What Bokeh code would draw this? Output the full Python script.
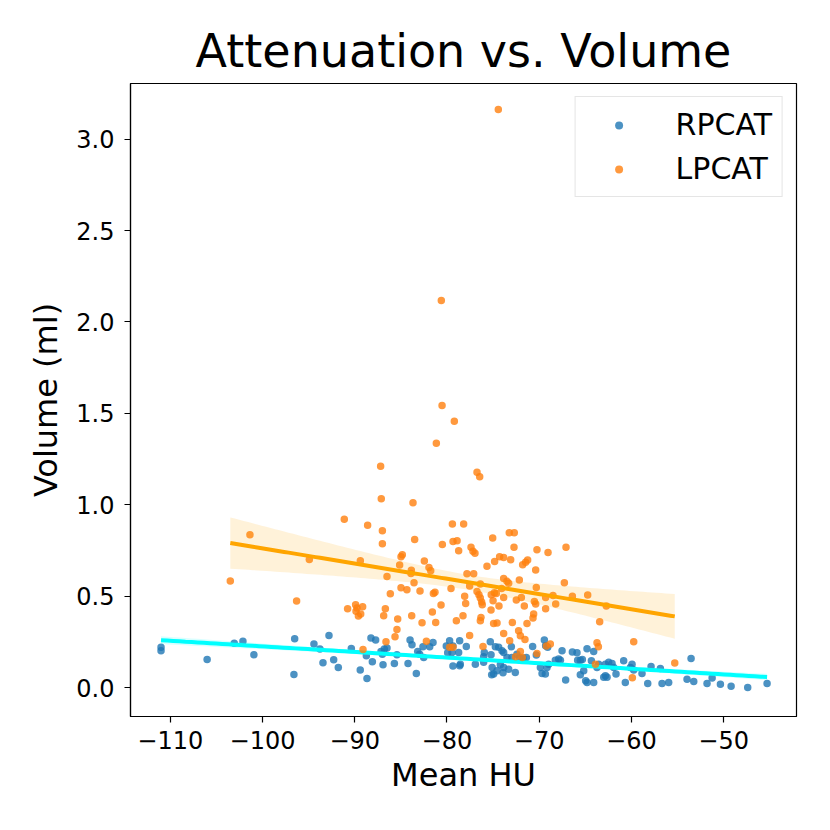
import numpy as np
from bokeh.plotting import figure
from bokeh.models import Range1d, Legend, LegendItem, FixedTicker
from bokeh.embed import file_html
from bokeh.resources import INLINE

# ---------------- data ----------------
rpcat_hu = [
    -111.0, -111.0, -106.0, -103.06, -102.12, -100.93, -96.51, -96.59, -94.42, -93.77,
    -92.79, -93.44, -92.28, -91.78, -90.37, -89.4, -88.67, -88.74, -88.09, -88.24,
    -87.73, -86.93, -87.0, -86.79, -86.5, -87.15, -85.7, -85.42, -84.22, -84.0,
    -83.79, -83.32, -83.17, -82.96, -82.6, -82.52, -81.87, -81.51,
    -80.07, -79.71, -79.35, -78.62, -77.9, -79.92, -79.45, -78.73,
    -79.35, -78.55, -78.62, -76.92, -76.02, -75.95, -76.02, -75.3, -75.22,
    -74.75, -74.39, -74.03, -73.85, -75.1, -74.94, -75.15, -74.57,
    -74.21, -73.85, -73.92, -73.31, -73.49, -73.02, -72.95, -72.59,
    -72.41, -72.12, -71.76, -71.39, -70.71, -70.31,
    -69.87, -69.69, -69.33, -69.15, -68.97, -69.44, -69.3, -69.08,
    -68.25, -67.89, -67.7, -67.52, -67.13,
    -66.4, -65.9, -65.83, -65.54, -65.32, -65.54, -65.17, -64.96, -64.81, -64.09,
    -64.81, -64.09, -64.34, -63.73, -63.55, -63.0, -62.82, -62.64,
    -62.82, -62.46, -62.1, -61.92, -61.67,
    -60.84, -60.66, -60.11, -59.93, -59.75,
    -58.85, -58.23, -57.87, -56.86, -56.68, -55.96,
    -53.53, -53.97, -53.24, -51.8, -51.25, -50.35, -49.19, -47.39, -45.29,
]
rpcat_vol = [
    0.221, 0.202, 0.155, 0.244, 0.255, 0.181, 0.268, 0.073, 0.239, 0.212,
    0.286, 0.137, 0.153, 0.111, 0.215, 0.097, 0.051, 0.175, 0.142, 0.272,
    0.261, 0.126, 0.184, 0.212, 0.217, 0.199, 0.133, 0.181, 0.133, 0.261,
    0.235, 0.078, 0.199, 0.184, 0.224, 0.166, 0.224, 0.248,
    0.228, 0.257, 0.228, 0.257, 0.226, 0.191, 0.193, 0.193,
    0.119, 0.129, 0.120, 0.129, 0.170, 0.193, 0.139, 0.252, 0.181,
    0.224, 0.221, 0.202, 0.193, 0.111, 0.075, 0.071, 0.093,
    0.126, 0.111, 0.082, 0.102, 0.166, 0.224, 0.166, 0.084,
    0.184, 0.166, 0.162, 0.166, 0.226, 0.179,
    0.111, 0.078, 0.075, 0.111, 0.129, 0.261, 0.230, 0.221,
    0.151, 0.157, 0.151, 0.202, 0.042,
    0.195, 0.191, 0.151, 0.151, 0.155, 0.071, 0.093, 0.038, 0.029, 0.029,
    0.213, 0.199, 0.148, 0.111, 0.129, 0.057, 0.066, 0.057,
    0.129, 0.139, 0.133, 0.111, 0.075,
    0.148, 0.029, 0.111, 0.129, 0.097,
    0.078, 0.024, 0.117, 0.106, 0.024, 0.029,
    0.160, 0.047, 0.035, 0.024, 0.053, 0.020, 0.009, 0.002, 0.024,
]

lpcat_hu = [
    -74.43, -80.61, -80.53, -79.2, -81.15, -87.19, -76.74, -76.45, -87.12, -83.68,
    -91.13, -88.6, -101.36, -87.0, -87.0, -83.5, -79.41, -78.19, -80.5, -79.34, -78.9, -78.73,
    -77.39, -77.18, -76.96, -75.04, -73.24, -72.7, -72.73, -70.24, -69.04, -67.09,
    -74.29, -73.85, -73.09, -74.83, -75.66, -71.79, -71.47, -71.25, -70.38,
    -77.83, -77.1, -73.85, -73.49, -73.31, -72.15, -76.38, -77.54, -74.07, -70.31, -67.27,
    -76.74, -76.53, -76.38, -76.24, -76.17, -75.2, -74.86, -74.65, -75.0,
    -78.08, -77.97, -73.85, -74.36, -75.22, -72.48, -71.93, -71.61, -70.52, -70.38,
    -69.3, -69.3, -68.5, -68.21, -66.4, -64.74, -62.72, -63.44, -59.75, -55.3,
    -78.98, -78.26, -76.31, -76.38, -74.94, -74.57, -72.91, -70.6, -70.67, -71.32,
    -73.85, -72.23, -72.04, -71.54, -73.2, -77.54,
    -76.09, -72.04, -72.55, -71.83, -70.24, -69.22, -68.79, -63.73, -63.58, -63.9, -59.9,
    -94.92, -89.39, -84.98, -84.84, -85.13, -82.45, -81.95, -81.76, -83.86, -83.9,
    -86.5, -83.57, -84.98, -84.34, -82.92, -86.14, -81.47, -81.3, -79.56, -103.49,
    -96.3, -90.77, -89.9, -89.75, -89.14, -89.86, -89.6, -89.35, -86.68, -86.86,
    -83.82, -85.34, -82.7, -81.58, -80.64, -81.22,
    -85.42, -85.63, -86.61, -82.23, -89.1, -79.7, -79.34,
]
lpcat_vol = [
    3.162, 2.117, 1.543, 1.457, 1.337, 1.211, 1.178, 1.154, 1.034, 1.012,
    0.921, 0.888, 0.837, 0.859, 0.788, 0.811, 0.895, 0.895, 0.784, 0.800, 0.804, 0.749,
    0.768, 0.746, 0.735, 0.819, 0.848, 0.848, 0.768, 0.755, 0.740, 0.768,
    0.717, 0.713, 0.700, 0.691, 0.664, 0.673, 0.686, 0.698, 0.644,
    0.624, 0.624, 0.598, 0.582, 0.571, 0.589, 0.567, 0.556, 0.543, 0.549, 0.574,
    0.527, 0.509, 0.491, 0.469, 0.454, 0.509, 0.520, 0.516, 0.476,
    0.501, 0.461, 0.494, 0.447, 0.425, 0.480, 0.494, 0.447, 0.472, 0.458,
    0.432, 0.494, 0.505, 0.458, 0.501, 0.507, 0.447, 0.361, 0.252, 0.135,
    0.367, 0.394, 0.385, 0.367, 0.352, 0.354, 0.357, 0.403, 0.381, 0.352,
    0.297, 0.312, 0.285, 0.264, 0.257, 0.286,
    0.226, 0.199, 0.170, 0.166, 0.188, 0.228, 0.239, 0.246, 0.224, 0.129, 0.055,
    0.702, 0.695, 0.717, 0.728, 0.671, 0.693, 0.658, 0.640, 0.642, 0.625,
    0.609, 0.574, 0.547, 0.536, 0.529, 0.514, 0.516, 0.522, 0.543, 0.584,
    0.474, 0.432, 0.454, 0.436, 0.443, 0.418, 0.392, 0.403, 0.432, 0.394,
    0.394, 0.376, 0.356, 0.414, 0.452, 0.357,
    0.319, 0.279, 0.252, 0.255, 0.210, 0.221, 0.221,
]

x_ticks = [-110, -100, -90, -80, -70, -60, -50]
y_ticks = [0.0, 0.5, 1.0, 1.5, 2.0, 2.5, 3.0]


def fit_band(x, y, n=100, t=1.45):
    x = np.asarray(x, float)
    y = np.asarray(y, float)
    b, a = np.polyfit(x, y, 1)
    xs = np.linspace(x.min(), x.max(), n)
    yhat = a + b * xs
    resid = y - (a + b * x)
    s = np.sqrt(np.sum(resid ** 2) / (len(x) - 2))
    sxx = np.sum((x - x.mean()) ** 2)
    se = s * np.sqrt(1.0 / len(x) + (xs - x.mean()) ** 2 / sxx)
    return xs, yhat, yhat - t * se, yhat + t * se


FONT = "DejaVu Sans"

p = figure(width=822, height=822,
           x_range=Range1d(-114.31, -42.1), y_range=Range1d(-0.157, 3.304),
           output_backend="svg", toolbar_location=None,
           title="Attenuation vs. Volume",
           min_border_left=130, min_border_right=26,
           min_border_top=83, min_border_bottom=106)

p.title.text_font = FONT
p.title.text_font_size = "46px"
p.title.text_font_style = "normal"
p.title.align = "center"
p.title.text_color = "black"
p.title.standoff = 11

p.xgrid.grid_line_color = None
p.ygrid.grid_line_color = None
p.outline_line_color = "black"
p.outline_line_width = 1.2
p.outline_line_alpha = 1.0

for ax in (p.xaxis, p.yaxis):
    ax.axis_line_color = "black"
    ax.axis_line_width = 1.2
    ax.major_tick_line_color = "black"
    ax.major_tick_line_width = 1.2
    ax.major_tick_out = 6
    ax.major_tick_in = 0
    ax.minor_tick_line_color = None
    ax.major_label_text_font = FONT
    ax.major_label_text_font_size = "24px"
    ax.major_label_text_color = "black"
    ax.axis_label_text_font = FONT
    ax.axis_label_text_font_size = "32px"
    ax.axis_label_text_font_style = "normal"
    ax.axis_label_text_color = "black"

p.xaxis.ticker = FixedTicker(ticks=x_ticks)
p.xaxis.major_label_overrides = {t: ("\u2212" + str(abs(t))) for t in x_ticks}
p.yaxis.ticker = FixedTicker(ticks=y_ticks)
p.yaxis.major_label_overrides = {t: f"{t:.1f}" for t in y_ticks}
p.xaxis.axis_label = "Mean HU"
p.yaxis.axis_label = "Volume (ml)"
p.xaxis.major_label_standoff = 8
p.yaxis.major_label_standoff = 10
p.xaxis.axis_label_standoff = 4
p.yaxis.axis_label_standoff = 8

# RPCAT
r1 = p.scatter(rpcat_hu, rpcat_vol, size=7.5, fill_color="#1f77b4",
               line_color=None, fill_alpha=0.8)
xs, yh, lo, hi = fit_band(rpcat_hu, rpcat_vol)
p.line(xs, yh, line_color="cyan", line_width=4)
p.varea(x=xs, y1=lo, y2=hi, fill_color="cyan", fill_alpha=0.15)

# LPCAT
r2 = p.scatter(lpcat_hu, lpcat_vol, size=7.5, fill_color="#ff7f0e",
               line_color=None, fill_alpha=0.8)
xs2, yh2, lo2, hi2 = fit_band(lpcat_hu, lpcat_vol)
p.line(xs2, yh2, line_color="orange", line_width=4)
p.varea(x=xs2, y1=lo2, y2=hi2, fill_color="orange", fill_alpha=0.15)

legend = Legend(items=[LegendItem(label="RPCAT", renderers=[r1]),
                       LegendItem(label="LPCAT", renderers=[r2])],
                location="top_right")
legend.margin = 13
legend.padding = 10
legend.spacing = 9
legend.glyph_width = 66
legend.label_standoff = 24
legend.label_text_font = FONT
legend.label_text_font_size = "30px"
legend.label_text_color = "black"
legend.border_line_color = "#cccccc"
legend.border_line_width = 1.5
legend.background_fill_alpha = 0.8
p.add_layout(legend)

open("out.html", "w").write(file_html(p, INLINE))
